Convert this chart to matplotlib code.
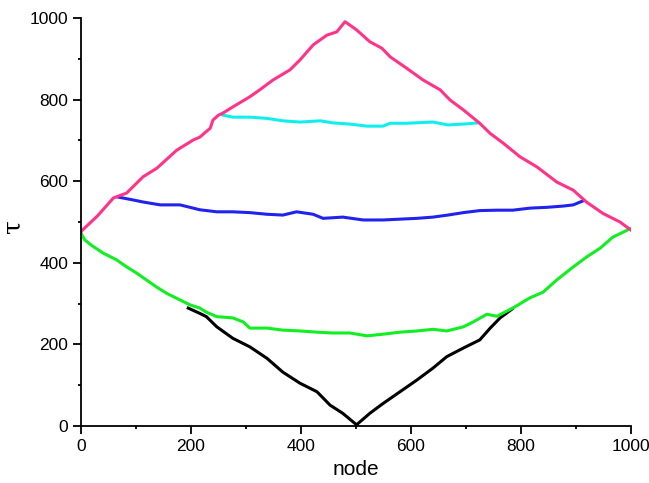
import matplotlib
matplotlib.use('Agg')
import matplotlib.pyplot as plt
from matplotlib.ticker import MultipleLocator

# - - - - - - - - - - Data - - - - - - - - - - #

# magenta: rises to a peak near node 480 then falls
pink_x = [0, 1, 30, 59, 83, 113, 138, 174, 204, 216, 235, 240, 250, 258, 276, 307, 325,
          349, 380, 398, 422, 447, 465, 480, 501, 525, 547, 562, 592, 622, 653, 671,
          695, 725, 744, 768, 798, 829, 865, 895, 919, 949, 980, 1000]
pink_y = [475, 478, 515, 559, 571, 611, 632, 676, 701, 708, 730, 750, 762, 767, 782, 807, 824,
          848, 873, 897, 934, 958, 966, 991, 971, 942, 926, 905, 877, 848, 824, 799,
          775, 742, 717, 693, 660, 635, 598, 578, 549, 521, 500, 480]

# cyan plateau
cyan_x = [258, 276, 307, 338, 367, 398, 435, 458, 489, 520, 549, 562, 592, 640, 667, 695, 722]
cyan_y = [762, 757, 757, 754, 748, 745, 748, 743, 740, 735, 735, 742, 742, 745, 738, 740, 743]

# blue plateau
blue_x = [68, 95, 113, 144, 180, 216, 247, 276, 307, 338, 367, 392, 422, 440, 476, 513, 549,
          580, 611, 640, 667, 695, 725, 756, 785, 816, 847, 876, 895, 913]
blue_y = [561, 554, 549, 542, 542, 530, 525, 525, 523, 519, 517, 525, 519, 509, 512, 505, 505,
          507, 509, 512, 517, 523, 528, 529, 529, 534, 536, 539, 542, 552]

# green valley
green_x = [0, 7, 19, 40, 65, 83, 101, 119, 137, 156, 180, 198, 216, 228, 247, 276, 295, 307,
           338, 367, 398, 429, 458, 489, 520, 549, 580, 611, 640, 665, 695, 713, 738, 756,
           785, 816, 840, 865, 895, 920, 944, 967, 993, 1000]
green_y = [472, 456, 443, 424, 407, 390, 375, 358, 341, 325, 309, 297, 289, 279, 268, 265, 255, 240,
           240, 235, 233, 230, 228, 228, 221, 225, 230, 233, 237, 233, 243, 255, 274, 269,
           289, 314, 328, 358, 390, 415, 436, 463, 480, 485]

# black V
black_x = [195, 216, 228, 247, 276, 307, 338, 367, 398, 429, 453, 476, 501, 525, 549, 580,
           611, 640, 665, 695, 725, 744, 762, 784]
black_y = [289, 276, 268, 243, 215, 194, 166, 132, 105, 84, 51, 31, 3, 31, 55, 84,
           113, 142, 170, 191, 211, 240, 265, 287]

# - - - - - - - - - - Plot - - - - - - - - - - #

plt.rcParams['font.family'] = ['Liberation Sans', 'DejaVu Sans']

fig = plt.figure(figsize=(6.49, 4.83), dpi=100)
ax = fig.add_axes([0.1248, 0.118, 0.8475, 0.8447])

lw = 2.2
ax.plot(black_x, black_y, color='black', lw=lw)
ax.plot(green_x, green_y, color='#11ee22', lw=lw)
ax.plot(blue_x, blue_y, color='#2222ee', lw=lw)
ax.plot(cyan_x, cyan_y, color='#11eeee', lw=lw)
ax.plot(pink_x, pink_y, color='#ff3388', lw=lw)

ax.set_xlim(0, 1000)
ax.set_ylim(0, 1000)
ax.xaxis.set_major_locator(MultipleLocator(200))
ax.xaxis.set_minor_locator(MultipleLocator(100))
ax.yaxis.set_major_locator(MultipleLocator(200))
ax.yaxis.set_minor_locator(MultipleLocator(100))

for side in ['top', 'right']:
  ax.spines[side].set_visible(False)
for side in ['left', 'bottom']:
  ax.spines[side].set_linewidth(1.3)

ax.tick_params(which='major', length=6, width=1.3, labelsize=12.5, pad=3)
ax.tick_params(which='minor', length=2.5, width=1.3)

ax.set_xlabel('node', fontsize=15, labelpad=5)
ax.set_ylabel('τ', fontsize=18, family=['DejaVu Serif'])
# put the tau where the reference has it (right edge about 25 px from the left)
ax.yaxis.set_label_coords(-0.103, 0.49)

fig.savefig('out.png', dpi=100)
